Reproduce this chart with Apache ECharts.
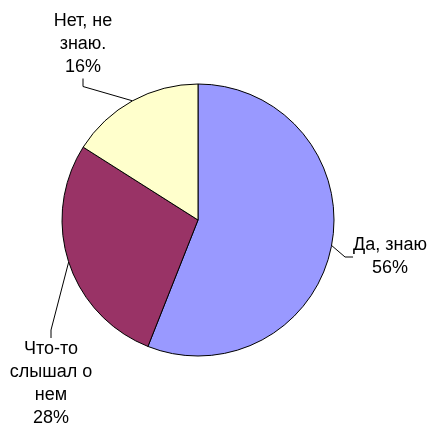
<!DOCTYPE html>
<html>
<head>
<meta charset="utf-8">
<script src="https://cdn.jsdelivr.net/npm/echarts@6/dist/echarts.min.js"></script>
<style>
    html, body { margin: 0; padding: 0; background: #fff; }
    #pieChart { width: 429px; height: 427px; }
</style>
</head>
<body>
<div id="pieChart"></div>
<script>
const categories = ['Да, знаю', 'Что-то\nслышал о\nнем', 'Нет, не\nзнаю.'];
const values = [56, 28, 16];
const colors = ['#9999FF', '#993366', '#FFFFCC'];

// where each label sits (centre of text block)
const labelPos = [
    { x: 390, y: 257 },
    { x: 51, y: 384 },
    { x: 83, y: 44 }
];

const pieChart = echarts.init(document.getElementById('pieChart'));

pieChart.setOption({
    backgroundColor: '#fff',
    animation: false,
    series: [
        {
            type: 'pie',
            radius: 136,
            center: [198, 220],
            startAngle: 90,
            clockwise: true,
            avoidLabelOverlap: false,
            data: categories.map((name, i) => ({
                name: name,
                value: values[i],
                itemStyle: { color: colors[i] }
            })),
            itemStyle: {
                borderColor: '#000',
                borderWidth: 1
            },
            label: {
                show: true,
                position: 'outside',
                formatter: '{b}\n{d}%',
                fontFamily: 'Liberation Sans, Arial, sans-serif',
                fontSize: 18,
                lineHeight: 23,
                color: '#000',
                align: 'center'
            },
            labelLine: {
                show: true,
                length: 12,
                length2: 8,
                lineStyle: { color: '#000', width: 1 }
            },
            labelLayout: function (params) {
                const p = labelPos[params.dataIndex];
                return {
                    x: p.x,
                    y: p.y,
                    align: 'center',
                    verticalAlign: 'middle'
                };
            },
            emphasis: { disabled: true }
        }
    ]
});
</script>
</body>
</html>
